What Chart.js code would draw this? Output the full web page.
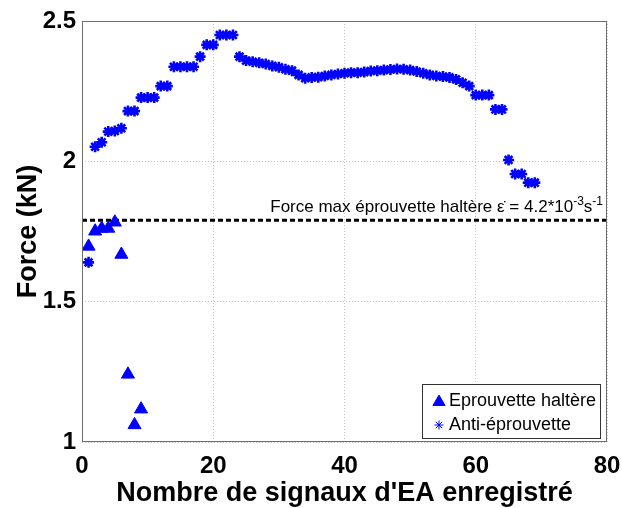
<!DOCTYPE html>
<html><head><meta charset="utf-8">
<script src="https://cdn.jsdelivr.net/npm/chart.js@4"></script>
<style>html,body{margin:0;padding:0;background:#fff}canvas{display:block}</style>
</head><body>
<canvas id="c" width="622" height="508"></canvas>
<script>
// ── données ──
const xHaltere=[1,2,3,4,5,6,7,8,9];
const yHaltere=[1.697,1.751,1.761,1.761,1.783,1.668,1.241,1.061,1.117];
const xAnti=[1,2,3,4,5,6,7,8,9,10,11,12,13,14,15,16,17,18,19,20,21,22,23,24,25,26,27,28,29,30,31,32,33,34,35,
  36,37,38,39,40,41,42,43,44,45,46,47,48,49,50,51,52,53,54,55,56,57,58,59,60,61,62,63,64,65,66,67,68,69];
const yAnti=[1.64,2.052,2.068,2.106,2.108,2.118,2.179,2.179,2.227,2.227,2.227,2.268,2.268,2.337,2.337,2.337,2.337,2.373,
  2.415,2.415,2.45,2.45,2.45,2.373,2.359,2.355,2.351,2.347,2.34,2.335,2.328,2.323,2.308,2.296,2.299,2.30,2.304,2.308,
  2.311,2.314,2.316,2.316,2.318,2.322,2.323,2.325,2.327,2.329,2.328,2.325,2.32,2.314,2.308,2.304,2.302,2.299,2.292,
  2.28,2.268,2.236,2.236,2.236,2.185,2.185,2.005,1.955,1.955,1.924,1.924];
const forceMax=1.79;
const xRange=[0,80], yRange=[1,2.5];
const labels=['Eprouvette haltère','Anti-éprouvette'];
const annot=['Force max éprouvette haltère ε̇ = 4.2*10','-3','s','-1'];
const xTitle="Nombre de signaux d'EA enregistré", yTitle='Force (kN)';

const FONT='"Liberation Sans", Arial, sans-serif';
const BLUE='#0000ff';

// cadre, légende et texte de la ligne pointillée
const extras={id:'extras',afterDatasetsDraw(chart){
  const {ctx,chartArea:a,scales:{x,y}}=chart;
  ctx.save();
  ctx.strokeStyle='#6e6e6e';ctx.lineWidth=1;
  ctx.strokeRect(a.left+0.5,a.top+0.5,a.right-a.left-1,a.bottom-a.top-1);
  // texte annotation
  const base=y.getPixelForValue(forceMax)-8;
  const big='17px '+FONT, sup='12px '+FONT;
  ctx.font=big;const w0=ctx.measureText(annot[0]).width,w2=ctx.measureText(annot[2]).width;
  ctx.font=sup;const w1=ctx.measureText(annot[1]).width,w3=ctx.measureText(annot[3]).width;
  let px=x.getPixelForValue(xRange[1])-4-(w0+w1+w2+w3);
  ctx.fillStyle='#000';ctx.textBaseline='alphabetic';ctx.textAlign='left';
  ctx.font=big;ctx.fillText(annot[0],px,base);px+=w0;
  ctx.font=sup;ctx.fillText(annot[1],px,base-7);px+=w1;
  ctx.font=big;ctx.fillText(annot[2],px,base);px+=w2;
  ctx.font=sup;ctx.fillText(annot[3],px,base-7);
  // légende
  const L=422,T=384,R=600,B=438;
  ctx.fillStyle='#fff';ctx.fillRect(L,T,R-L,B-T);
  ctx.strokeStyle='#333';ctx.strokeRect(L+0.5,T+0.5,R-L,B-T);
  ctx.font='18px '+FONT;ctx.textBaseline='middle';ctx.fillStyle='#000';
  const rows=[[401,{pointStyle:'triangle',radius:7,borderWidth:1}],[425,{pointStyle:'star',radius:4.5,borderWidth:1.8}]];
  rows.forEach(([ry,st],i)=>{
    ctx.fillStyle=BLUE;ctx.strokeStyle=BLUE;
    Chart.helpers.drawPoint(ctx,st,439,ry+(i===0?1:0));
    ctx.fillStyle='#000';ctx.fillText(labels[i],449,ry);
  });
  ctx.restore();
}};

new Chart(document.getElementById('c'),{
  type:'scatter',
  data:{datasets:[
    {label:labels[0],data:xHaltere.map((v,i)=>({x:v,y:yHaltere[i]})),pointStyle:'triangle',pointRadius:7.5,
      backgroundColor:BLUE,borderColor:BLUE,borderWidth:1},
    {label:labels[1],data:xAnti.map((v,i)=>({x:v,y:yAnti[i]})),pointStyle:'star',pointRadius:5.5,
      backgroundColor:BLUE,borderColor:BLUE,borderWidth:2.6},
    {label:'max',type:'line',data:[{x:xRange[0],y:forceMax},{x:xRange[1],y:forceMax}],borderColor:'#000',
      borderWidth:3,borderDash:[5,3],pointRadius:0,fill:false}
  ]},
  options:{responsive:false,animation:false,devicePixelRatio:1,
    layout:{padding:{left:0,right:15,top:21,bottom:0}},
    plugins:{legend:{display:false},tooltip:{enabled:false}},
    scales:{
      x:{type:'linear',min:xRange[0],max:xRange[1],
        afterFit:s=>{s.height=66;s.paddingLeft=0;s.paddingRight=0;},
        ticks:{stepSize:20,color:'#000',font:{family:FONT,size:24,weight:'bold'},padding:10},
        grid:{color:'#c4c4c4',drawTicks:false},border:{display:false,dash:[1,2]},
        title:{display:true,text:xTitle,color:'#000',font:{family:FONT,size:27,weight:'bold',lineHeight:1},padding:{top:0,bottom:1}}},
      y:{type:'linear',min:yRange[0],max:yRange[1],
        afterFit:s=>{s.width=82;s.paddingTop=0;s.paddingBottom=0;},
        ticks:{stepSize:0.5,color:'#000',font:{family:FONT,size:24,weight:'bold'},padding:6,callback:v=>String(v)},
        grid:{color:'#c4c4c4',drawTicks:false},border:{display:false,dash:[1,2]},
        title:{display:true,text:yTitle,color:'#000',font:{family:FONT,size:27,weight:'bold',lineHeight:1},padding:{top:15,bottom:0}}}
    }},
  plugins:[extras]
});
</script>
</body></html>
